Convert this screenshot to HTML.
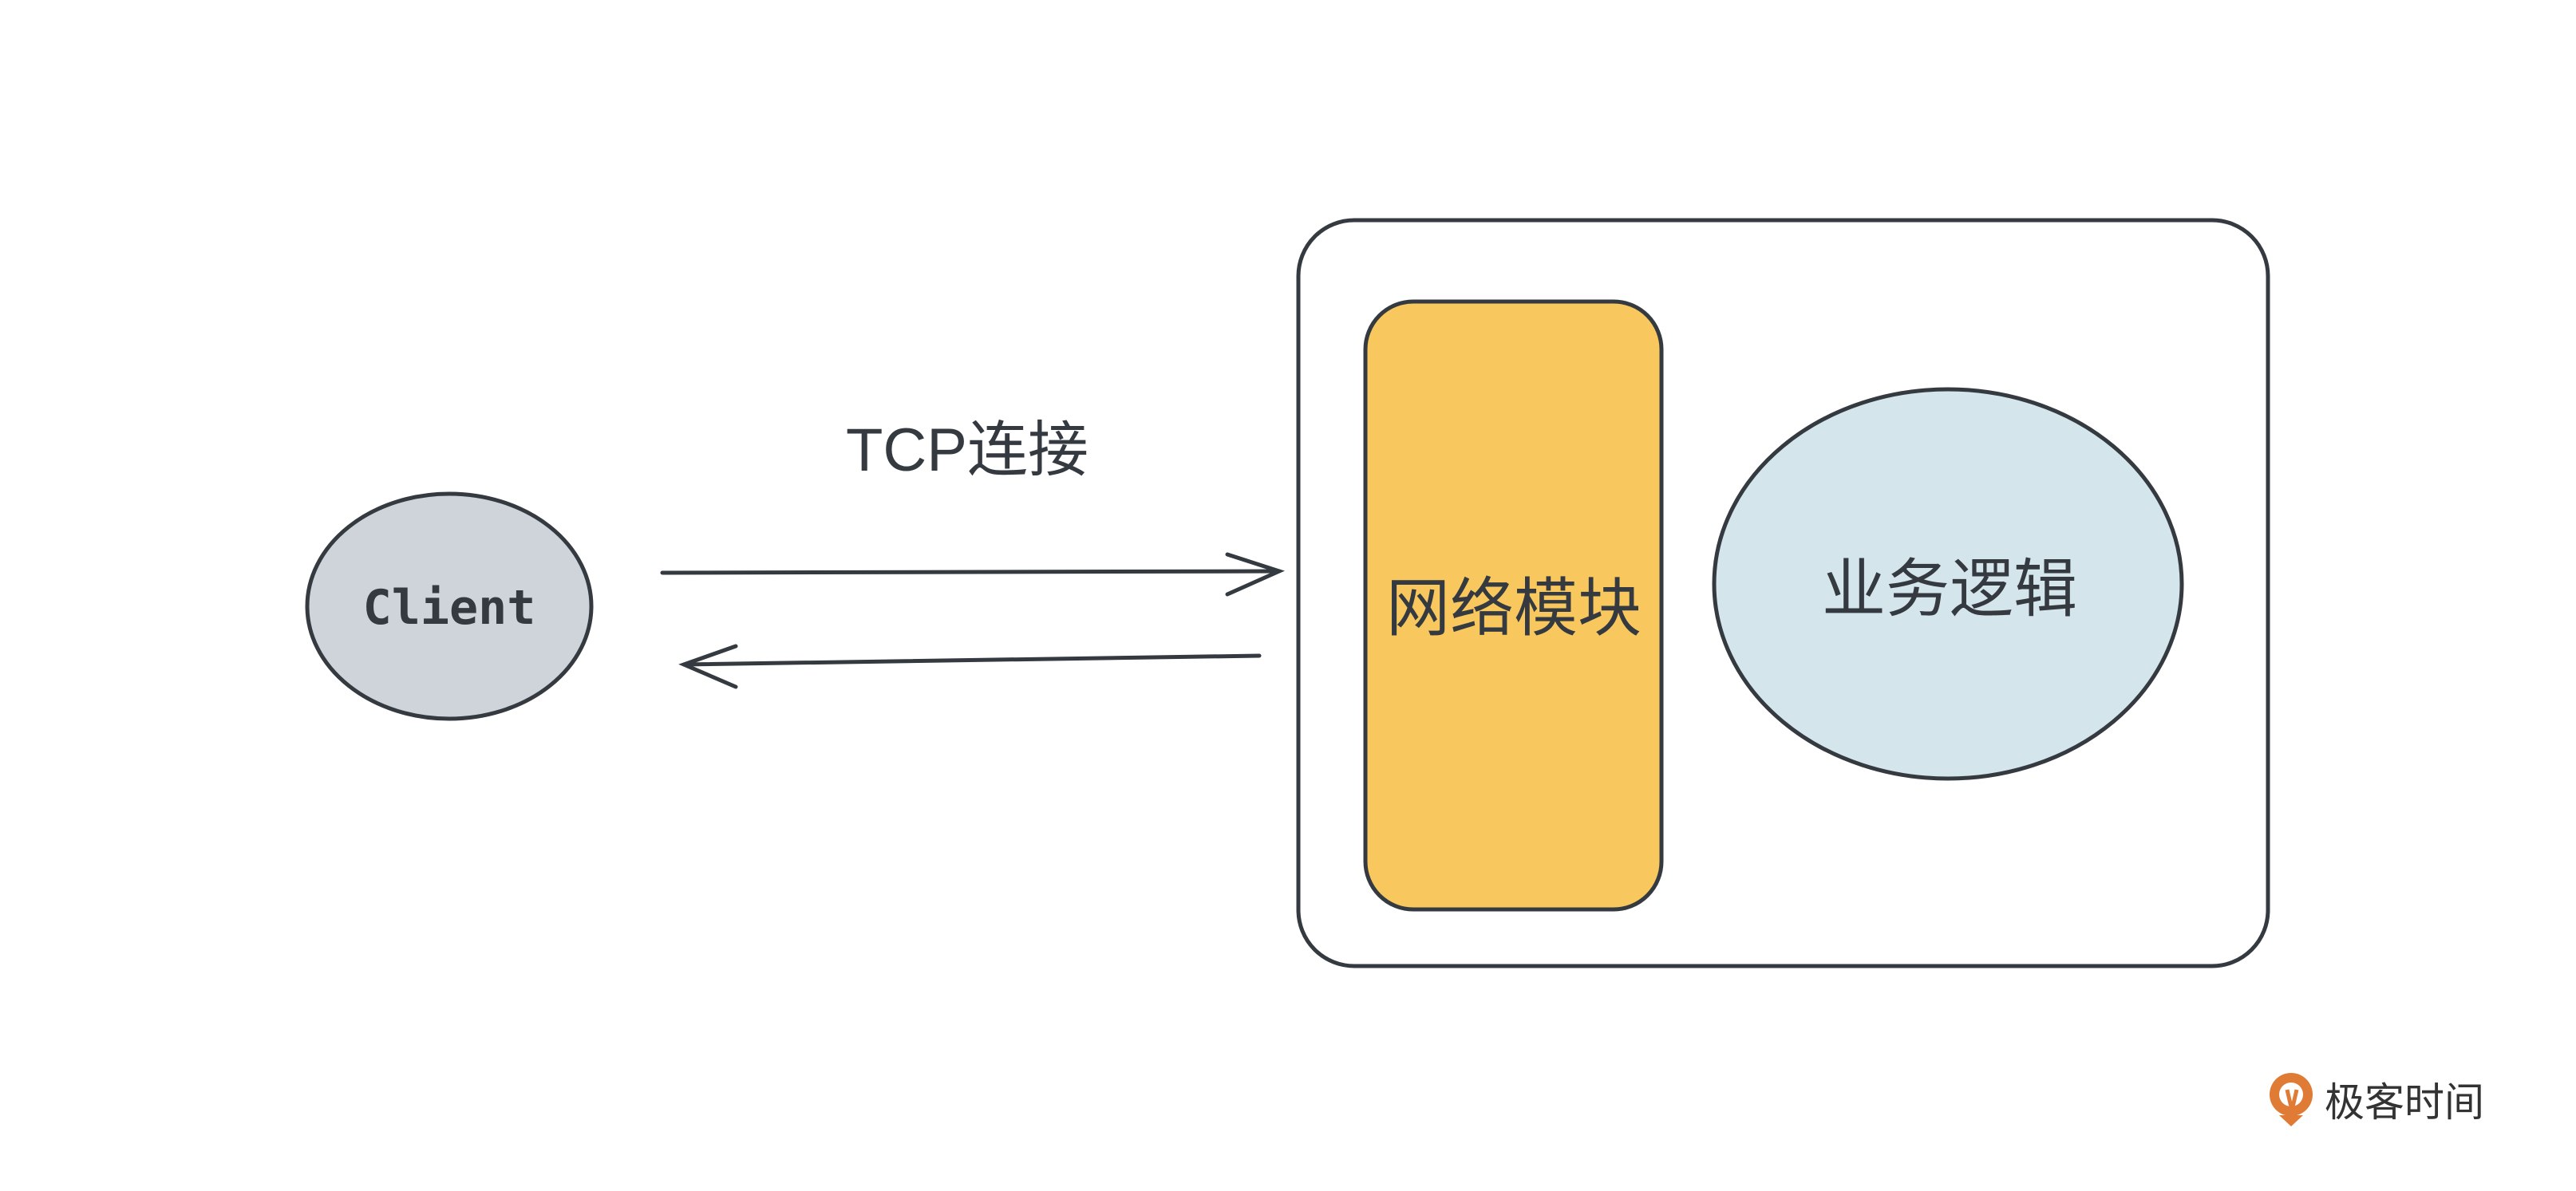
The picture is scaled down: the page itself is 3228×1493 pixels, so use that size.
<!DOCTYPE html>
<html><head><meta charset="utf-8"><style>
html,body{margin:0;padding:0;background:#fff;}
body{width:3228px;height:1488px;overflow:hidden;}
</style></head><body>
<svg width="3228" height="1488" viewBox="0 0 3228 1488" xmlns="http://www.w3.org/2000/svg">
<g stroke="#343a40" stroke-width="5" stroke-linecap="round" fill="none">
  <rect x="1627" y="276" width="1215" height="935" rx="70" fill="#fff"/>
  <rect x="1711" y="378" width="371" height="762" rx="60" fill="#f8c85f"/>
  <ellipse cx="2441" cy="732" rx="293" ry="244" fill="#d4e5ec"/>
  <ellipse cx="563" cy="760" rx="178" ry="141" fill="#ced4da"/>
  <path d="M830 718 L1603 716"/>
  <path d="M1538 695 L1603 716 L1538 745"/>
  <path d="M1578 822 L857 833"/>
  <path d="M922 810 L857 833 L922 861"/>
</g>
<g fill="#343a40">
  <text x="563" y="782" font-family="DejaVu Sans Mono, monospace" font-weight="600" font-size="60" text-anchor="middle">Client</text>
  <text x="1212" y="590" font-family="Liberation Sans, 'Noto Sans CJK SC', sans-serif" font-size="76" text-anchor="middle">TCP连接</text>
  <text x="1897" y="790" font-family="Liberation Sans, 'Noto Sans CJK SC', sans-serif" font-size="80" text-anchor="middle">网络模块</text>
  <text x="2443" y="766" font-family="Liberation Sans, 'Noto Sans CJK SC', sans-serif" font-size="80" text-anchor="middle">业务逻辑</text>
  <text x="3013" y="1399" font-family="Liberation Sans, 'Noto Sans CJK SC', sans-serif" font-size="50" text-anchor="middle" fill="#333">极客时间</text>
</g>
<g>
  <circle cx="2871" cy="1372" r="27" fill="#e07b35"/>
  <circle cx="2871" cy="1372" r="15" fill="#fff"/>
  <path d="M2856 1398 L2871 1412 L2886 1398 Z" fill="#e07b35"/>
  <path d="M2866 1366 L2872 1392 L2878 1366" stroke="#e07b35" stroke-width="5" fill="none"/>
</g>
</svg>
</body></html>
